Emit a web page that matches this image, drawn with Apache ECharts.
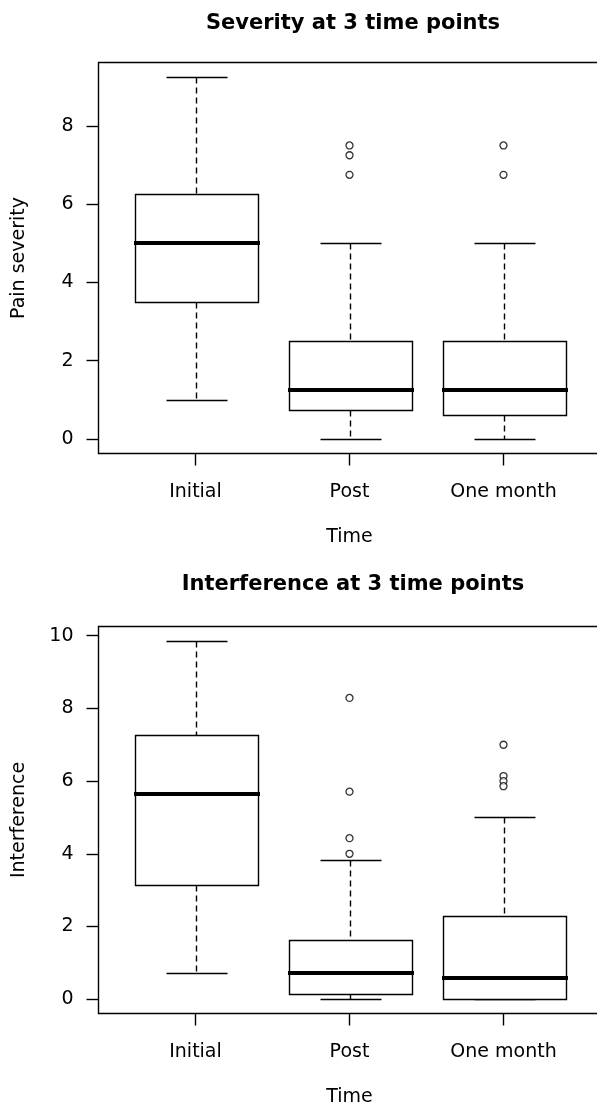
<!DOCTYPE html>
<html>
<head>
<meta charset="utf-8">
<script src="https://cdn.jsdelivr.net/npm/echarts@6/dist/echarts.min.js"></script>
<style>
html,body{margin:0;padding:0;background:#fff;}
#c{width:597px;height:1104px;}
</style>
</head>
<body>
<div id="c"></div>
<script>
// ---- data ----
const categories = ['Initial', 'Post', 'One month'];

// [min, Q1, median, Q3, max]
const severityBoxes = [
  [1.0, 3.5, 5.0, 6.25, 9.25],
  [0.0, 0.75, 1.25, 2.5, 5.0],
  [0.0, 0.625, 1.25, 2.5, 5.0]
];
const severityOutliers = [
  [],
  [7.5, 7.25, 6.75],
  [7.5, 6.75]
];
const severityTicks = [0, 2, 4, 6, 8];

const interferenceBoxes = [
  [0.71, 3.14, 5.65, 7.27, 9.86],
  [0.0, 0.13, 0.71, 1.64, 3.84],
  [0.0, 0.0, 0.57, 2.29, 5.0]
];
const interferenceOutliers = [
  [],
  [8.29, 5.71, 4.43, 4.0],
  [7.0, 6.14, 6.0, 5.86]
];
const interferenceTicks = [0, 2, 4, 6, 8, 10];

// ---- helpers ----
const FONT = 'DejaVu Sans';
const LW = 1.4;
function extent(boxes, outs) {
  let lo = Infinity, hi = -Infinity;
  boxes.forEach(b => b.forEach(v => { lo = Math.min(lo, v); hi = Math.max(hi, v); }));
  outs.forEach(o => o.forEach(v => { lo = Math.min(lo, v); hi = Math.max(hi, v); }));
  const pad = (hi - lo) * 0.04;
  return [lo - pad, hi + pad];
}
function px(v) { return Math.round(v) + 0.5; }

function renderBox(params, api) {
  const i = api.value(0);
  const lo = api.coord([i, api.value(1)]);
  const q1 = api.coord([i, api.value(2)]);
  const md = api.coord([i, api.value(3)]);
  const q3 = api.coord([i, api.value(4)]);
  const hi = api.coord([i, api.value(5)]);
  const band = api.size([1, 0])[0];
  const bw = band * 0.8, half = bw / 2, cap = bw / 4;
  const cx = px(lo[0]);
  const stroke = { stroke: '#000', lineWidth: LW, fill: null };
  const dash = { stroke: '#000', lineWidth: LW, lineDash: [6, 4] };
  const yl = px(lo[1]), y1 = px(q1[1]), y3 = px(q3[1]), yh = px(hi[1]);
  const xl = px(cx - half), xr = px(cx + half);
  return {
    type: 'group',
    children: [
      { type: 'line', shape: { x1: cx, y1: yh, x2: cx, y2: y3 }, style: dash },
      { type: 'line', shape: { x1: cx, y1: y1, x2: cx, y2: yl }, style: dash },
      { type: 'line', shape: { x1: px(cx - cap), y1: yh, x2: px(cx + cap), y2: yh }, style: stroke },
      { type: 'line', shape: { x1: px(cx - cap), y1: yl, x2: px(cx + cap), y2: yl }, style: stroke },
      { type: 'rect', shape: { x: xl, y: y3, width: xr - xl, height: y1 - y3 }, style: { stroke: '#000', lineWidth: LW, fill: '#fff' } },
      { type: 'line', shape: { x1: xl - 1.5, y1: Math.round(md[1]), x2: xr + 1.5, y2: Math.round(md[1]) }, style: { stroke: '#000', lineWidth: 4 } }
    ]
  };
}

function panel(idx, top, height, boxes, outs, ticks, yName) {
  const ext = extent(boxes, outs);
  const frameGrid = { left: 98.5, top: top + 0.5, width: 502, height: height, show: true, borderColor: '#000', borderWidth: LW, backgroundColor: 'transparent', outerBoundsMode: 'none', containLabel: false };
  const dataGrid = { left: 118.5, top: top + 0.5, width: 462, height: height, outerBoundsMode: 'none', containLabel: false };
  const fx = { gridIndex: idx * 2, type: 'value', min: 0, max: 1, show: false };
  const fy = {
    gridIndex: idx * 2, type: 'value', min: ext[0], max: ext[1],
    axisLine: { show: false, onZero: false },
    axisTick: { show: true, length: 12, inside: false, customValues: ticks, lineStyle: { color: '#000', width: LW } },
    axisLabel: { customValues: ticks, margin: 25, color: '#000', fontFamily: FONT, fontSize: 19 },
    splitLine: { show: false },
    name: yName, nameLocation: 'middle', nameGap: 70, nameRotate: 90,
    nameTextStyle: { color: '#000', fontFamily: FONT, fontSize: 19 }
  };
  const dx = {
    gridIndex: idx * 2 + 1, type: 'category', data: categories, position: 'bottom',
    axisLine: { show: false, onZero: false },
    axisTick: { show: true, alignWithLabel: true, length: 12, lineStyle: { color: '#000', width: LW } },
    axisLabel: { margin: 29, color: '#000', fontFamily: FONT, fontSize: 19, interval: 0 },
    name: 'Time', nameLocation: 'middle', nameGap: 74,
    nameTextStyle: { color: '#000', fontFamily: FONT, fontSize: 19 }
  };
  const dy = { gridIndex: idx * 2 + 1, type: 'value', min: ext[0], max: ext[1], show: false };
  const boxData = boxes.map((b, i) => [i].concat(b));
  const outData = [];
  outs.forEach((o, i) => o.forEach(v => outData.push([i, v])));
  const series = [
    {
      type: 'custom', xAxisIndex: idx * 2 + 1, yAxisIndex: idx * 2 + 1,
      renderItem: renderBox, data: boxData,
      encode: { x: 0, y: [1, 2, 3, 4, 5] }, silent: true
    },
    {
      type: 'scatter', xAxisIndex: idx * 2 + 1, yAxisIndex: idx * 2 + 1,
      data: outData, symbol: 'circle', symbolSize: 7,
      itemStyle: { color: '#fff', borderColor: '#000', borderWidth: 1.3 }, silent: true
    }
  ];
  return { grids: [frameGrid, dataGrid], xAxes: [fx, dx], yAxes: [fy, dy], series };
}

const p1 = panel(0, 62, 391, severityBoxes, severityOutliers, severityTicks, 'Pain severity');
const p2 = panel(1, 626, 387, interferenceBoxes, interferenceOutliers, interferenceTicks, 'Interference');

const chart = echarts.init(document.getElementById('c'), null, { renderer: 'canvas' });
chart.setOption({
  animation: false,
  backgroundColor: '#fff',
  title: [
    { text: 'Severity at 3 time points', left: 348, top: 8, textAlign: 'center',
      textStyle: { fontFamily: FONT, fontWeight: 'bold', fontSize: 21, color: '#000' } },
    { text: 'Interference at 3 time points', left: 348, top: 569, textAlign: 'center',
      textStyle: { fontFamily: FONT, fontWeight: 'bold', fontSize: 21, color: '#000' } }
  ],
  grid: p1.grids.concat(p2.grids),
  xAxis: p1.xAxes.concat(p2.xAxes),
  yAxis: p1.yAxes.concat(p2.yAxes),
  series: p1.series.concat(p2.series)
});
</script>
</body>
</html>
